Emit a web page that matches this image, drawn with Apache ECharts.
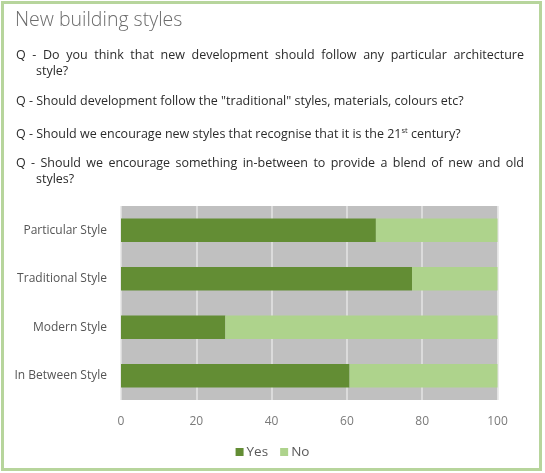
<!DOCTYPE html>
<html>
<head>
<meta charset="utf-8">
<script src="https://cdn.jsdelivr.net/npm/echarts@6/dist/echarts.min.js"></script>
<style>
  html, body { margin: 0; padding: 0; background: #fff; }
  #main { width: 545px; height: 473px; }
</style>
</head>
<body>
<div id="main"></div>
<script>
// survey data
const categories = ['Particular Style', 'Traditional Style', 'Modern Style', 'In Between Style'];
const yesValues = [67.7, 77.3, 27.7, 60.7];
const noValues = [32.3, 22.7, 72.3, 39.3];
const seriesNames = ['Yes', 'No'];

const pageTitle = 'New building styles';
// text, x, y, justified to right edge?
const questionLines = [
  ['Q - Do you think that new development should follow any particular architecture', 16, 58, true],
  ['style?', 36, 74, false],
  ['Q - Should development follow the "traditional" styles, materials, colours etc?', 16, 104, false],
  ['Q - Should we encourage new styles that recognise that it is the 21{sup|st} century?', 16, 136, false],
  ['Q - Should we encourage something in-between to provide a blend of new and old', 16, 166, true],
  ['styles?', 36, 182, false]
];

const chart = echarts.init(document.getElementById('main'));

const font = '"Open Sans", "Noto Sans", sans-serif';
const qFont = '12.5px ' + font;
const rightEdge = 524;

const graphics = [
  {
    type: 'rect',
    shape: { x: 2.5, y: 2.5, width: 538, height: 467 },
    style: { fill: 'none', stroke: '#b7d59c', lineWidth: 3 },
    z: 0
  },
  {
    type: 'text',
    left: 15,
    top: 10,
    style: { text: pageTitle, font: '300 19.5px ' + font, fill: '#6b6b6b' }
  }
];

// measure words so long lines can be spread like justified text
const ctx = document.createElement('canvas').getContext('2d');
ctx.font = qFont;

questionLines.forEach(function (q) {
  if (q[3]) {
    const words = q[0].split(' ');
    const widths = words.map(function (w) { return ctx.measureText(w).width; });
    const total = widths.reduce(function (a, b) { return a + b; }, 0);
    const gap = (rightEdge - q[1] - total) / (words.length - 1);
    let x = q[1];
    words.forEach(function (w, i) {
      graphics.push({
        type: 'text',
        x: x,
        y: q[2] - 9,
        style: { text: w, font: qFont, fill: '#2b2b2b' }
      });
      x += widths[i] + gap;
    });
  } else {
    graphics.push({
      type: 'text',
      x: q[1],
      y: q[2] - 9,
      style: {
        text: q[0],
        font: qFont,
        fill: '#2b2b2b',
        rich: {
          sup: { fontSize: 7.5, fontFamily: font, fill: '#2b2b2b', verticalAlign: 'top', padding: [0, 0, 6, 0] }
        }
      }
    });
  }
});

const option = {
  backgroundColor: '#ffffff',
  graphic: graphics,
  legend: {
    data: seriesNames,
    bottom: 9,
    left: 'center',
    itemWidth: 8,
    itemHeight: 8,
    itemGap: 12,
    icon: 'rect',
    textStyle: { color: '#595959', fontSize: 13.5, fontFamily: font, padding: [0, 0, 0, -2] }
  },
  grid: {
    left: 121,
    right: 47.5,
    top: 206,
    bottom: 73,
    show: true,
    backgroundColor: '#c0c0c0',
    borderWidth: 0
  },
  xAxis: {
    type: 'value',
    min: 0,
    max: 100,
    interval: 20,
    axisLine: { show: false },
    axisTick: { show: false },
    axisLabel: { color: '#7a7a7a', fontSize: 12, fontFamily: font, margin: 16 },
    splitLine: { show: true, lineStyle: { color: '#e4e4e4', width: 1.5 } }
  },
  yAxis: {
    type: 'category',
    data: categories,
    inverse: true,
    axisLine: { show: false },
    axisTick: { show: false },
    axisLabel: { color: '#555555', fontSize: 12, fontFamily: font, margin: 14 }
  },
  series: [
    {
      name: seriesNames[0],
      type: 'bar',
      stack: 'total',
      data: yesValues,
      barCategoryGap: '52%',
      itemStyle: { color: '#638d34' }
    },
    {
      name: seriesNames[1],
      type: 'bar',
      stack: 'total',
      data: noValues,
      barCategoryGap: '52%',
      itemStyle: { color: '#aed38c' }
    }
  ]
};

chart.setOption(option);
</script>
</body>
</html>
